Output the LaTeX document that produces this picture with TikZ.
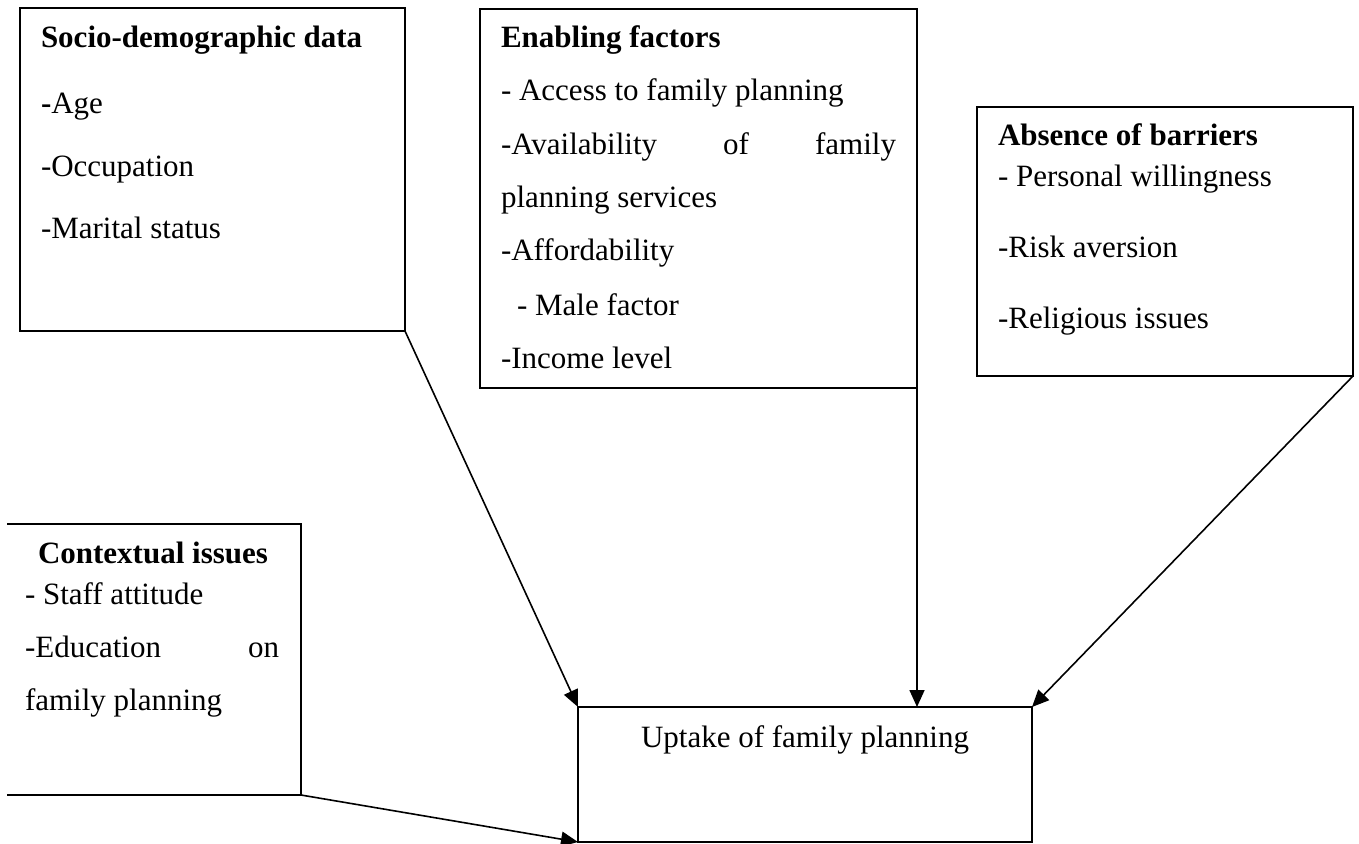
\documentclass[tikz,border=0pt]{standalone}
\usepackage{fontspec}
\setmainfont{Liberation Serif}
\usetikzlibrary{arrows.meta}
\begin{document}
\begin{tikzpicture}[x=1pt,y=-1pt,
  box/.style={draw=black,line width=2pt,rectangle,inner sep=0pt,outer sep=0pt,anchor=north west},
  openbox/.style={rectangle,inner sep=0pt,outer sep=0pt,anchor=north west},
  txt/.style={anchor=base west,inner sep=0pt,outer sep=0pt,font=\fontsize{31}{37}\selectfont},
  ctxt/.style={anchor=base,inner sep=0pt,outer sep=0pt,font=\fontsize{31}{37}\selectfont},
  ttl/.style={txt,font=\fontsize{31}{37}\selectfont\bfseries},
  conn/.style={line width=1.6pt,-{Triangle[length=17pt,width=15pt]}}]
\useasboundingbox (0,0) rectangle (1359,843);
% boxes
\node[box,minimum width=385pt,minimum height=323pt] (soc) at (20,8) {};
\node[box,minimum width=437pt,minimum height=379pt] (en) at (480,9) {};
\node[box,minimum width=376pt,minimum height=269pt] (bar) at (977,107) {};
\node[openbox,minimum width=294pt,minimum height=271pt] (ctx) at (7,524) {};
\draw[line width=2pt] (ctx.north west) -- (ctx.north east) -- (ctx.south east) -- (ctx.south west);
\node[box,minimum width=454pt,minimum height=135pt] (up) at (578,707) {};
% texts: socio-demographic
\node[ttl] (s0) at (41,48) {Socio-demographic data};
\node[txt] (s1) at (41,113) {\textbf{-}Age};
\node[txt] (s2) at (41,176) {-Occupation};
\node[txt] (s3) at (41,238) {-Marital status};
% enabling factors
\node[ttl] (e0) at (501,48) {Enabling factors};
\node[txt] (e1) at (501,100) {- Access to family planning};
\node[txt] (e2) at (501,154) {\makebox[395pt][s]{-Availability of family}};
\node[txt] (e3) at (501,207) {planning services};
\node[txt] (e4) at (501,260) {-Affordability};
\node[txt] (e5) at (517,315) {- Male factor};
\node[txt] (e6) at (501,368) {-Income level};
% absence of barriers
\node[ttl] (b0) at (998,145) {Absence of barriers};
\node[txt] (b1) at (998,186) {- Personal willingness};
\node[txt] (b2) at (998,257) {-Risk aversion};
\node[txt] (b3) at (998,328) {-Religious issues};
% contextual issues
\node[ctxt,font=\fontsize{31}{37}\selectfont\bfseries] (c0) at (153,563) {Contextual issues};
\node[txt] (c1) at (25,604) {- Staff attitude};
\node[txt] (c2) at (25,657) {\makebox[254pt][s]{-Education on}};
\node[txt] (c3) at (25,710) {family planning};
% uptake
\node[ctxt] (u0) at (805,747) {Uptake of family planning};
% connectors
\draw[conn] (soc.south east) -- (up.north west);
\draw[conn] (en.south east) -- (en.south east |- up.north);
\draw[conn] (bar.south east) -- (up.north east);
\draw[conn] (ctx.south east) -- (up.south west);
\end{tikzpicture}
\end{document}
